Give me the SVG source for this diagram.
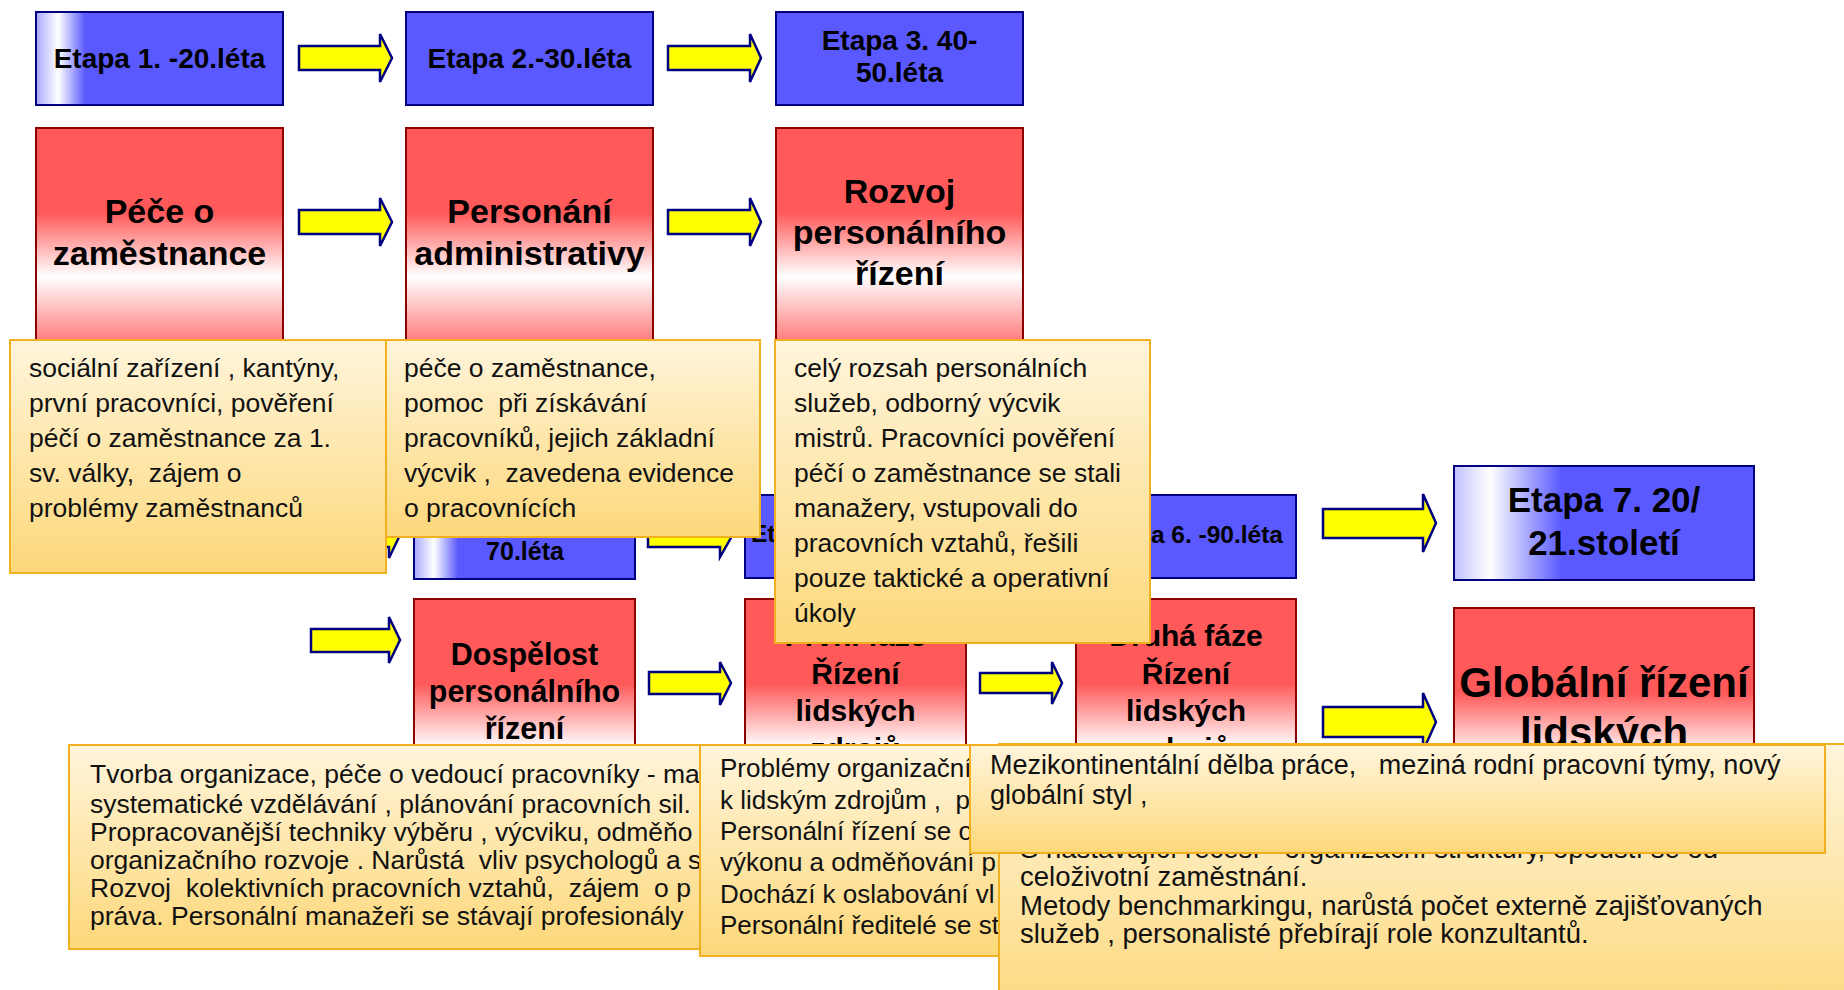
<svg xmlns="http://www.w3.org/2000/svg" width="1844" height="990" viewBox="0 0 1844 990">
<defs>
<linearGradient id="gRed" x1="0" y1="0" x2="0" y2="1">
<stop offset="0" stop-color="#ff5959"/><stop offset="0.4" stop-color="#ff5959"/><stop offset="0.7" stop-color="#ffffff"/><stop offset="1" stop-color="#ff7e7e"/>
</linearGradient>
<linearGradient id="gYel" x1="0" y1="0" x2="0" y2="1">
<stop offset="0" stop-color="#fff5dc"/><stop offset="1" stop-color="#fdd87a"/>
</linearGradient>
<linearGradient id="gBlueHi" x1="0" y1="0" x2="1" y2="0">
<stop offset="0" stop-color="#a8a8ff"/><stop offset="0.09" stop-color="#ffffff"/><stop offset="0.2" stop-color="#5959ff"/><stop offset="1" stop-color="#5959ff"/>
</linearGradient>
<linearGradient id="gBlueHi7" x1="0" y1="0" x2="1" y2="0">
<stop offset="0" stop-color="#c0c0ff"/><stop offset="0.12" stop-color="#ffffff"/><stop offset="0.36" stop-color="#5959ff"/><stop offset="1" stop-color="#5959ff"/>
</linearGradient>
</defs>
<style>
.blue{fill:#5959ff;stroke:#000080;stroke-width:2}
.red{fill:url(#gRed);stroke:#8b0000;stroke-width:2}
.note{fill:url(#gYel);stroke:#f0b020;stroke-width:2}
.arr{fill:#ffff00;stroke:#000080;stroke-width:2.5;stroke-linejoin:miter}
.t{font-family:"Liberation Sans",Arial,sans-serif;font-weight:bold;fill:#000;text-anchor:middle}
.b{font-family:"Liberation Sans",Arial,sans-serif;fill:#111;white-space:pre}
</style>

<g id="etapa1"><rect class="blue" x="36" y="12" width="247" height="93" style="fill:url(#gBlueHi)"/><text class="t" x="159.5" y="68" font-size="28">Etapa 1. -20.léta</text></g>
<g id="etapa2"><rect class="blue" x="406" y="12" width="247" height="93"/><text class="t" x="529.5" y="68" font-size="28">Etapa 2.-30.léta</text></g>
<g id="etapa3"><rect class="blue" x="776" y="12" width="247" height="93"/><text class="t" x="899.5" y="50" font-size="28">Etapa 3. 40-</text><text class="t" x="899.5" y="82" font-size="28">50.léta</text></g>

<g id="pece"><rect class="red" x="36" y="128" width="247" height="212"/><text class="t" x="159.5" y="223" font-size="34">Péče o</text><text class="t" x="159.5" y="265" font-size="34">zaměstnance</text></g>
<g id="administrativa"><rect class="red" x="406" y="128" width="247" height="212"/><text class="t" x="529.5" y="223" font-size="34">Personání</text><text class="t" x="529.5" y="265" font-size="34">administrativy</text></g>
<g id="rozvoj"><rect class="red" x="776" y="128" width="247" height="212"/><text class="t" x="899.5" y="203" font-size="34">Rozvoj</text><text class="t" x="899.5" y="244" font-size="34">personálního</text><text class="t" x="899.5" y="285" font-size="34">řízení</text></g>

<g id="etapa4"><rect class="blue" x="414" y="495" width="221" height="84" style="fill:url(#gBlueHi)"/><text class="t" x="525" y="560" font-size="25">70.léta</text></g>
<g id="etapa5"><rect class="blue" x="745" y="495" width="221" height="83"/><text class="t" x="751" y="542" font-size="24.5" style="text-anchor:start">Etapa 5.</text></g>
<g id="etapa6"><rect class="blue" x="1076" y="495" width="220" height="83"/><text class="t" x="1283" y="543" font-size="24.5" style="text-anchor:end">Etapa 6. -90.léta</text></g>
<g id="etapa7"><rect class="blue" x="1454" y="466" width="300" height="114" style="fill:url(#gBlueHi7)"/><text class="t" x="1604" y="512" font-size="35">Etapa 7. 20/</text><text class="t" x="1604" y="555" font-size="35">21.století</text></g>

<g id="dospelost"><rect class="red" x="414" y="599" width="221" height="212"/><text class="t" x="524.5" y="665" font-size="30.5">Dospělost</text><text class="t" x="524.5" y="702" font-size="30.5">personálního</text><text class="t" x="524.5" y="739" font-size="30.5">řízení</text></g>
<g id="prvni"><rect class="red" x="745" y="599" width="221" height="212"/><text class="t" x="855.5" y="646" font-size="30">První fáze</text><text class="t" x="855.5" y="684" font-size="30">Řízení</text><text class="t" x="855.5" y="721" font-size="30">lidských</text><text class="t" x="855.5" y="759" font-size="30">zdrojů</text></g>
<g id="druha"><rect class="red" x="1076" y="599" width="220" height="212"/><text class="t" x="1186" y="646" font-size="30">Druhá fáze</text><text class="t" x="1186" y="684" font-size="30">Řízení</text><text class="t" x="1186" y="721" font-size="30">lidských</text><text class="t" x="1186" y="759" font-size="30">zdrojů</text></g>
<g id="globalni"><rect class="red" x="1454" y="608" width="300" height="212"/><text class="t" x="1604" y="697" font-size="42">Globální řízení</text><text class="t" x="1604" y="747" font-size="42">lidských</text></g>

<g id="connectors">
<path class="arr" d="M299,46 H380 V34 L392,58 L380,82 V70 H299 Z"/>
<path class="arr" d="M668,46 H750 V34 L761,58 L750,82 V70 H668 Z"/>
<path class="arr" d="M299,210 H380 V198 L392,222 L380,246 V234 H299 Z"/>
<path class="arr" d="M668,210 H750 V198 L761,222 L750,246 V234 H668 Z"/>
<path class="arr" d="M311,524 H389 V512 L400,535 L389,558 V547 H311 Z"/>
<path class="arr" d="M648,525 H720 V514 L732,536 L720,557 V547 H648 Z"/>
<path class="arr" d="M1323,509 H1423 V494 L1436,523 L1423,552 V538 H1323 Z"/>
<path class="arr" d="M311,629 H389 V617 L400,640 L389,663 V652 H311 Z"/>
<path class="arr" d="M649,672 H720 V662 L731,683 L720,705 V694 H649 Z"/>
<path class="arr" d="M980,673 H1052 V662 L1062,683 L1052,704 V693 H980 Z"/>
<path class="arr" d="M1323,707 H1423 V693 L1436,722 L1423,751 V737 H1323 Z"/>
</g>

<g id="popis1"><rect class="note" x="10" y="340" width="376" height="233"/>
<text class="b" font-size="26.5"><tspan x="29" y="377">sociální zařízení , kantýny,</tspan><tspan x="29" y="412">první pracovníci, pověření</tspan><tspan x="29" y="447">péčí o zaměstnance za 1.</tspan><tspan x="29" y="482">sv. války,  zájem o</tspan><tspan x="29" y="517">problémy zaměstnanců</tspan></text></g>
<g id="popis2"><rect class="note" x="386" y="340" width="374" height="197"/>
<text class="b" font-size="26.5"><tspan x="404" y="377">péče o zaměstnance,</tspan><tspan x="404" y="412">pomoc  při získávání</tspan><tspan x="404" y="447">pracovníků, jejich základní</tspan><tspan x="404" y="482">výcvik ,  zavedena evidence</tspan><tspan x="404" y="517">o pracovnících</tspan></text></g>
<g id="popis3"><rect class="note" x="775" y="340" width="375" height="303"/>
<text class="b" font-size="26.5"><tspan x="794" y="377">celý rozsah personálních</tspan><tspan x="794" y="412">služeb, odborný výcvik</tspan><tspan x="794" y="447">mistrů. Pracovníci pověření</tspan><tspan x="794" y="482">péčí o zaměstnance se stali</tspan><tspan x="794" y="517">manažery, vstupovali do</tspan><tspan x="794" y="552">pracovních vztahů, řešili</tspan><tspan x="794" y="587">pouze taktické a operativní</tspan><tspan x="794" y="622">úkoly</tspan></text></g>
<g id="popis4"><rect class="note" x="69" y="745" width="660" height="204"/>
<text class="b" font-size="26.5"><tspan x="90" y="783">Tvorba organizace, péče o vedoucí pracovníky - ma</tspan><tspan x="90" y="813">systematické vzdělávání , plánování pracovních sil.</tspan><tspan x="90" y="841">Propracovanější techniky výběru , výcviku, odměňo</tspan><tspan x="90" y="869">organizačního rozvoje . Narůstá  vliv psychologů a s</tspan><tspan x="90" y="897">Rozvoj  kolektivních pracovních vztahů,  zájem  o p</tspan><tspan x="90" y="925">práva. Personální manažeři se stávají profesionály</tspan></text></g>
<g id="popis5"><rect class="note" x="700" y="745" width="330" height="211"/>
<text class="b" font-size="26"><tspan x="720" y="777">Problémy organizační</tspan><tspan x="720" y="809">k lidským zdrojům ,  p</tspan><tspan x="720" y="840">Personální řízení se o</tspan><tspan x="720" y="871">výkonu a odměňování p</tspan><tspan x="720" y="903">Dochází k oslabování vl</tspan><tspan x="720" y="934">Personální ředitelé se st</tspan></text></g>
<g id="popis6"><rect class="note" x="999" y="744" width="900" height="280"/>
<text class="b" font-size="27.5"><tspan x="1020" y="858">S nastavající recesí - organizační struktury, opouští se od</tspan><tspan x="1020" y="886">celoživotní zaměstnání.</tspan><tspan x="1020" y="915">Metody benchmarkingu, narůstá počet externě zajišťovaných</tspan><tspan x="1020" y="943">služeb , personalisté přebírají role konzultantů.</tspan></text></g>
<g id="popis7"><rect class="note" x="970" y="745" width="855" height="108"/>
<text class="b" font-size="27"><tspan x="990" y="774">Mezikontinentální dělba práce,   meziná rodní pracovní týmy, nový</tspan><tspan x="990" y="804">globální styl ,</tspan></text></g>
</svg>
